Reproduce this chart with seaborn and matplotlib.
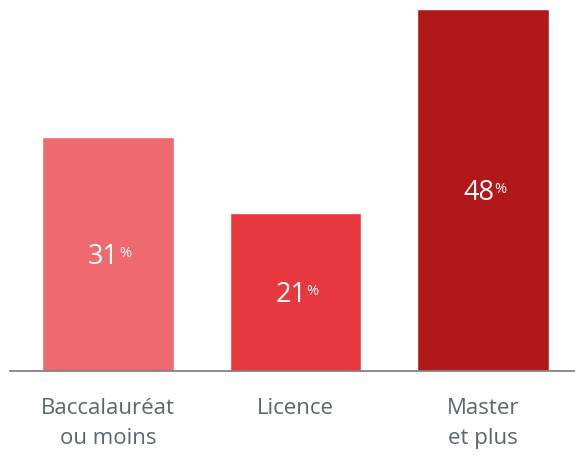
import matplotlib
matplotlib.use("Agg")
import matplotlib.pyplot as plt
import seaborn as sns
import pandas as pd

categories = ["Baccalauréat\nou moins", "Licence", "Master\net plus"]
values = [31, 21, 48]
colors = ["#EF6A6F", "#E8383F", "#B31818"]

df = pd.DataFrame({"niveau": categories, "part": values})

sns.set_theme(style="white")
plt.rcParams["font.family"] = ["Open Sans", "DejaVu Sans"]

fig = plt.figure(figsize=(5.75, 4.56), dpi=100)
ax = fig.add_axes([10 / 575, (456 - 372) / 456, 565 / 575, 372 / 456])

sns.barplot(data=df, x="niveau", y="part", hue="niveau", palette=colors,
            width=0.704, saturation=1, legend=False, ax=ax)

ax.set_ylim(0, 49.3)
ax.set_xlim(-0.523, 2.491)
for s in ["top", "right", "left"]:
    ax.spines[s].set_visible(False)
ax.spines["bottom"].set_color("#7f8184")
ax.spines["bottom"].set_linewidth(1.3)
ax.set_xlabel("")
ax.set_ylabel("")
ax.set_yticks([])
ax.tick_params(axis="x", length=0, pad=19, labelsize=16, labelcolor="#5c6670")
for lbl in ax.get_xticklabels():
    lbl.set_linespacing(1.55)

# value labels: number with a small raised percent sign, centred in each bar
for i, v in enumerate(values):
    y = v / 2
    ax.annotate(f"{v}", (i, y), xytext=(8, -6.8), textcoords="offset points",
                ha="right", va="baseline", color="white", fontsize=19.5)
    ax.annotate("%", (i, y), xytext=(7.8, -1.5), textcoords="offset points",
                ha="left", va="baseline", color="white", fontsize=10.5)

fig.savefig("out.png", dpi=100)
